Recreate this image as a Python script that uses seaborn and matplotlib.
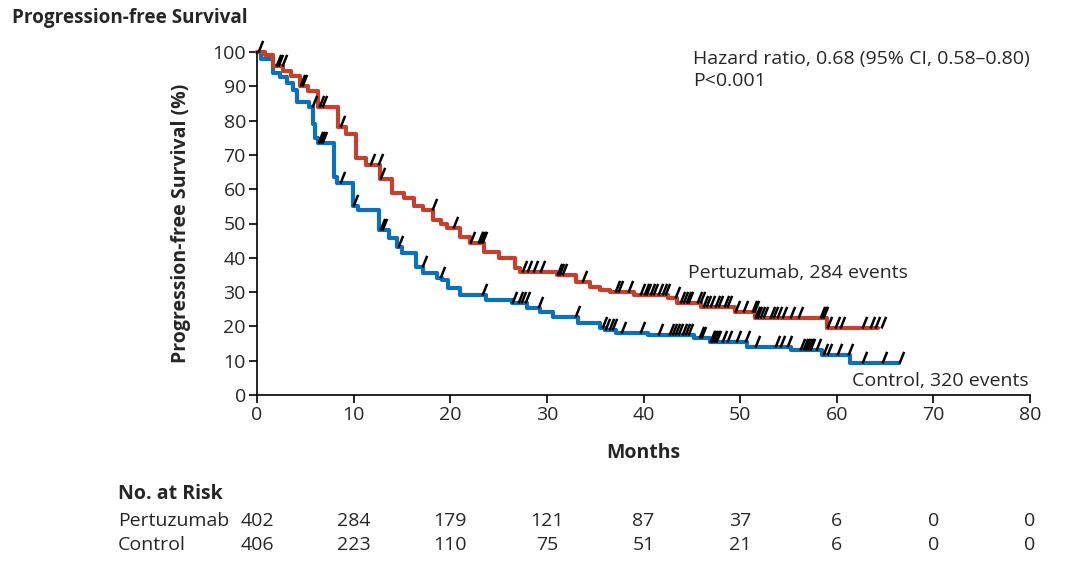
import numpy as np
import pandas as pd
import matplotlib.pyplot as plt
import matplotlib.transforms as mtransforms
import seaborn as sns

# Kaplan-Meier steps (months, % progression-free)
pert_t = [0, 0.8, 1.7, 2.7, 3.5, 4.4, 5.3, 6.3, 8.4, 9.2, 10.2, 11.3, 12.7, 14.0,
          15.2, 16.2, 17.2, 18.2, 19.0, 19.7, 21.0, 22.0, 23.5, 25.0, 26.7, 27.2,
          31.0, 33.0, 34.5, 35.5, 36.5, 39.0, 42.5, 43.5, 46.0, 49.5, 51.5, 59.0]
pert_s = [100, 99, 96, 94.5, 93, 90, 88.5, 84, 78, 76, 69, 67, 63, 59,
          57.4, 55, 54, 51, 50, 48.7, 46, 44.3, 41.7, 40, 37, 36,
          35, 33, 31.5, 30.6, 30, 29.2, 28.3, 26.8, 25.7, 24.2, 22.4, 19.5]
pert_end = 64.3

ctrl_t = [0, 0.4, 1.7, 2.4, 3.1, 3.7, 4.1, 5.4, 5.8, 6.0, 6.3, 8.0, 8.3, 9.9,
          10.5, 12.6, 13.7, 14.5, 15.0, 16.5, 17.2, 18.6, 19.1, 19.8, 21.0, 23.7,
          26.4, 27.9, 29.3, 30.6, 33.2, 35.5, 36.0, 37.2, 40.5, 45.2, 46.9, 50.7,
          55.3, 58.5, 61.4]
ctrl_s = [100, 98, 94, 92.7, 91, 89, 85.4, 84, 79, 75, 73.5, 63.6, 61.8, 55,
          54, 48, 45.8, 43.1, 41.4, 37.3, 35.6, 34, 33.5, 31.2, 29.2, 27.7,
          26.8, 25.4, 24.2, 22.7, 21, 19.5, 19, 18, 17.5, 16.6, 15.5, 14,
          13.1, 11.7, 9.3]
ctrl_end = 66.4

# censoring marks (months)
pert_cens = [0.1, 2.0, 2.2, 2.6, 4.4, 4.7, 6.4, 6.7, 8.6, 11.7, 12.5, 12.7, 18.1,
             20.3, 22.0, 22.9, 23.0, 23.2, 23.3, 27.4, 27.9, 28.6, 29.3, 31.0,
             31.3, 31.6, 33.6, 37.1, 37.4, 38.4, 39.6, 40.0, 40.3, 40.7, 41.0,
             41.5, 41.9, 42.2, 43.3, 43.8, 44.1, 44.4, 44.6, 45.5, 45.8, 46.2,
             46.5, 46.9, 47.4, 47.7, 48.3, 48.6, 49.5, 50.3, 51.2, 51.4, 51.5,
             51.7, 52.05, 52.4, 53.1, 53.4, 53.8, 54.3, 55.2, 56.0, 58.3, 58.5,
             58.6, 59.0, 59.8, 60.3, 62.6, 63.4, 63.96, 64.6]
ctrl_cens = [5.7, 6.3, 6.5, 6.7, 8.6, 9.9, 12.7, 12.9, 14.6, 17.1, 18.9, 23.3,
             26.4, 27.0, 27.3, 27.7, 29.1, 32.9, 35.7, 36.0, 36.4, 36.7, 37.7,
             39.6, 41.5, 42.6, 42.9, 43.3, 43.6, 43.95, 44.3, 44.6, 45.7, 46.0,
             46.9, 47.0, 47.2, 47.4, 47.5, 48.1, 48.6, 49.6, 50.5, 51.5, 53.6,
             54.1, 54.8, 56.2, 56.5, 56.7, 56.9, 57.1, 57.2, 57.9, 58.6, 58.97,
             60.0, 61.2, 62.6, 64.7, 66.4]

risk_months = [0, 10, 20, 30, 40, 50, 60, 70, 80]
risk_pert = [402, 284, 179, 121, 87, 37, 6, 0, 0]
risk_ctrl = [406, 223, 110, 75, 51, 21, 6, 0, 0]

red = '#C4412D'
blue = '#0B72B9'
fs = 14

sns.set_style("ticks")
plt.rcParams['font.family'] = ['Open Sans', 'DejaVu Sans']


def steps(t, s, end, arm):
    return pd.DataFrame({'month': list(t) + [end], 'pfs': list(s) + [s[-1]], 'arm': arm})


def at(t, s, cens):
    idx = np.searchsorted(np.array(t), np.array(cens), side='right') - 1
    return np.array(s)[idx]


curves = pd.concat([steps(pert_t, pert_s, pert_end, 'Pertuzumab'),
                    steps(ctrl_t, ctrl_s, ctrl_end, 'Control')])
cens = pd.concat([
    pd.DataFrame({'month': pert_cens, 'pfs': at(pert_t, pert_s, pert_cens)}),
    pd.DataFrame({'month': ctrl_cens, 'pfs': at(ctrl_t, ctrl_s, ctrl_cens)}),
])

fig = plt.figure(figsize=(10.8, 5.73), dpi=100)
ax = fig.add_axes([257 / 1080, 1 - 395 / 573, 773 / 1080, 343 / 573])

sns.lineplot(data=curves, x='month', y='pfs', hue='arm',
             palette={'Pertuzumab': red, 'Control': blue},
             hue_order=['Control', 'Pertuzumab'],
             estimator=None, drawstyle='steps-post', linewidth=3,
             legend=False, ax=ax, clip_on=False)

tick_marker = [(0, 0), (0.4, 1.0)]
sns.scatterplot(data=cens, x='month', y='pfs', marker=tick_marker, s=280,
                color='black', edgecolor='black', linewidth=1.8, ax=ax,
                zorder=4, clip_on=False)

ax.set_xlim(0, 80)
ax.set_ylim(0, 100)
ax.set_xticks(range(0, 81, 10))
ax.set_yticks(range(0, 101, 10))
ax.tick_params(labelsize=fs, length=6, width=1.2, color='black', pad=2)
sns.despine(ax=ax)
for sp in ['left', 'bottom']:
    ax.spines[sp].set_linewidth(1.2)
    ax.spines[sp].set_color('black')

ax.set_xlabel('Months', fontsize=fs, fontweight='bold')
ax.xaxis.set_label_coords(0.5, -0.14)
ax.set_ylabel('Progression-free Survival (%)', fontsize=fs, fontweight='bold')
ax.yaxis.set_label_coords(-0.085, 0.5)

ax.text(45.1, 100.5, 'Hazard ratio, 0.68 (95% CI, 0.58\u20130.80)\nP<0.001',
        fontsize=fs, va='top', ha='left', linespacing=1.25)
ax.text(44.6, 35.6, 'Pertuzumab, 284 events', fontsize=fs, va='center', ha='left')
ax.text(61.6, 4.1, 'Control, 320 events', fontsize=fs, va='center', ha='left')

fig.text(12 / 1080, 1 - 18 / 573, 'Progression-free Survival', fontsize=13.6,
         fontweight='bold', va='center', ha='left')

# number at risk table
trans = mtransforms.blended_transform_factory(ax.transData, fig.transFigure)
fig.text(118 / 1080, 1 - 494 / 573, 'No. at Risk', fontsize=fs,
         fontweight='bold', va='center', ha='left')
for label, vals, ypx in [('Pertuzumab', risk_pert, 521), ('Control', risk_ctrl, 545)]:
    fig.text(118 / 1080, 1 - ypx / 573, label, fontsize=fs, va='center', ha='left')
    for m, v in zip(risk_months, vals):
        ax.text(m, 1 - ypx / 573, str(v), fontsize=fs, va='center', ha='center',
                transform=trans)

fig.savefig('out.png', dpi=100)
